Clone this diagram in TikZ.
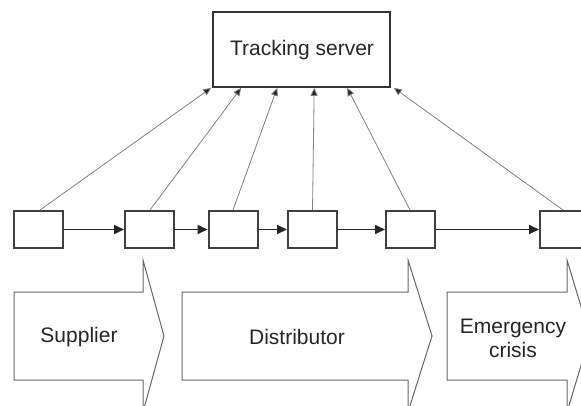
\documentclass[tikz,border=0pt]{standalone}
\usepackage{fontspec}
\setmainfont{Liberation Sans}
\usetikzlibrary{arrows.meta,calc}
\begin{document}
\begin{tikzpicture}[x=1pt,y=-1pt,
  serverbox/.style={draw=black!80,line width=1.6pt,minimum width=177pt,minimum height=75pt,inner sep=0pt},
  itembox/.style={draw=black!75,line width=2pt,minimum width=49pt,minimum height=37pt,inner sep=0pt,fill=white},
  flow/.style={draw=black!85,line width=1.8pt,-{Triangle[length=10pt,width=9pt]}},
  report/.style={draw=black!50,line width=0.8pt,-{Triangle[length=8pt,width=7pt,fill=black!85]}},
  stage/.style={draw=black!60,line width=1pt,fill=white,line join=miter},
  label/.style={font=\fontsize{21}{24}\selectfont,text=black!85,align=center,inner sep=0pt}]
\useasboundingbox (0,0) rectangle (581,406);
\begin{scope}
\clip (0,0) rectangle (581,406);

% stage arrows along the bottom
\draw[stage] (14,292) -- (143,292) -- (143,260) -- (164,336) -- (143,412) -- (143,380) -- (14,380) -- cycle;
\draw[stage] (182,292) -- (408,292) -- (408,260) -- (432,336) -- (408,412) -- (408,380) -- (182,380) -- cycle;
\draw[stage] (447,292) -- (567,292) -- (567,260) -- (590,336) -- (567,412) -- (567,380) -- (447,380) -- cycle;
\node[label] (sup) at (79,337) {Supplier};
\node[label] (dis) at (297,337) {Distributor};
\node[label] (eme) at (513,338) {Emergency\\crisis};

% server
\node[serverbox] (srv) at (301.5,49.5) {};
\node[label] (srvt) at (302,50) {Tracking server};

% chain of items
\node[itembox] (b1) at (38.5,229.5) {};
\node[itembox] (b2) at (149.5,229.5) {};
\node[itembox] (b3) at (233,229.5) {};
\node[itembox] (b4) at (312.5,229.5) {};
\node[itembox] (b5) at (410.5,229.5) {};
\node[itembox] (b6) at (564.5,229.5) {};

\draw[flow] (b1) -- (b2);
\draw[flow] (b2) -- (b3);
\draw[flow] (b3) -- (b4);
\draw[flow] (b4) -- (b5);
\draw[flow] (b5) -- (b6);

% reports to the server
\draw[report] ([xshift=1.5pt]b1.north) -- ([xshift=-1pt]srv.south west);
\draw[report] ([xshift=0.5pt]b2.north) -- ([xshift=29pt]srv.south west);
\draw[report] (b3.north) -- ([xshift=65pt]srv.south west);
\draw[report] (b4.north) -- ([xshift=102pt]srv.south west);
\draw[report] ([xshift=-0.5pt]b5.north) -- ([xshift=135pt]srv.south west);
\draw[report] ([xshift=-1.5pt]b6.north) -- ([xshift=3pt]srv.south east);
\end{scope}
\end{tikzpicture}
\end{document}
